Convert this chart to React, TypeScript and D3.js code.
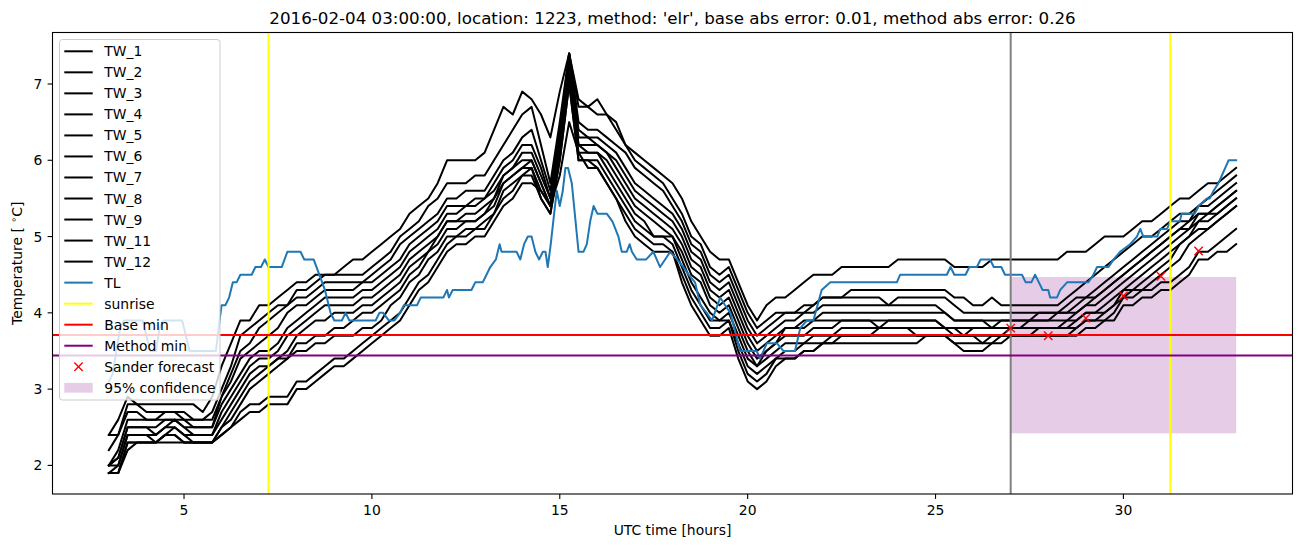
import React from "react";
import * as d3 from "d3";

const W = 1302;
const H = 547;
const PLOT = { left: 52.5, right: 1292.5, top: 32.5, bottom: 494 };
const FONT = "DejaVu Sans, Liberation Sans, sans-serif";

const TITLE = "2016-02-04 03:00:00, location: 1223, method: 'elr', base abs error: 0.01, method abs error: 0.26";
const X_DOMAIN = [1.5, 34.5];
const Y_DOMAIN = [1.625, 7.675];
const X_TICKS = [5, 10, 15, 20, 25, 30];
const Y_TICKS = [2, 3, 4, 5, 6, 7];

// TW series sampled every 15 minutes from 03:00 to 33:00 (one row per hour: :00 :15 :30 :45)
const T_START = 3;
const T_STEP = 0.25;

const TW_1 = [
  2.4, 2.6, 2.9, 2.8, 2.8, 2.8, 2.8, 2.8, 2.8, 2.8, 2.7, 2.9, 3.3, 3.6, 3.9, 3.9, 4.1, 4.1, 4.2, 4.3,
  4.4, 4.4, 4.5, 4.5, 4.5, 4.6, 4.7, 4.7, 4.8, 4.9, 5.0, 5.1, 5.3, 5.4, 5.5, 5.7, 6.0, 6.0, 6.0, 6.0,
  6.1, 6.4, 6.7, 6.6, 6.9, 6.8, 6.6, 6.3, 6.9, 7.4, 6.8, 6.7, 6.8, 6.6, 6.5, 6.2, 6.1, 6.0, 5.9, 5.8,
  5.7, 5.5, 5.2, 5.0, 4.8, 4.7, 4.7, 4.4, 4.1, 3.9, 4.1, 4.2, 4.2, 4.3, 4.4, 4.5, 4.5, 4.5, 4.6, 4.6,
  4.6, 4.6, 4.6, 4.6, 4.7, 4.7, 4.7, 4.7, 4.7, 4.7, 4.6, 4.6, 4.6, 4.6, 4.7, 4.7, 4.7, 4.7, 4.7, 4.7,
  4.7, 4.7, 4.8, 4.8, 4.8, 4.9, 5.0, 5.0, 5.0, 5.1, 5.2, 5.2, 5.3, 5.4, 5.5, 5.5, 5.6, 5.7, 5.7, 5.8,
  5.9,
];
const TW_2 = [
  2.4, 2.4, 2.8, 2.8, 2.7, 2.7, 2.7, 2.7, 2.7, 2.6, 2.6, 2.7, 3.0, 3.3, 3.7, 3.8, 3.9, 4.0, 4.1, 4.1,
  4.3, 4.3, 4.4, 4.5, 4.5, 4.5, 4.5, 4.5, 4.6, 4.7, 4.8, 5.0, 5.1, 5.2, 5.4, 5.5, 5.7, 5.7, 5.7, 5.8,
  5.8, 6.0, 6.2, 6.4, 6.6, 6.7, 6.2, 5.7, 6.5, 7.4, 6.7, 6.7, 6.6, 6.6, 6.4, 6.2, 6.0, 5.9, 5.8, 5.7,
  5.5, 5.3, 5.0, 4.9, 4.6, 4.5, 4.6, 4.3, 4.0, 3.8, 3.9, 4.0, 4.0, 4.0, 4.1, 4.1, 4.2, 4.2, 4.2, 4.3,
  4.3, 4.3, 4.3, 4.3, 4.3, 4.3, 4.3, 4.3, 4.3, 4.3, 4.2, 4.2, 4.1, 4.1, 4.2, 4.1, 4.1, 4.1, 4.1, 4.1,
  4.1, 4.1, 4.2, 4.3, 4.4, 4.5, 4.6, 4.7, 4.8, 4.9, 5.0, 5.0, 5.1, 5.2, 5.3, 5.3, 5.4, 5.5, 5.6, 5.7,
  5.8,
];
const TW_3 = [
  2.2, 2.4, 2.7, 2.7, 2.6, 2.6, 2.7, 2.7, 2.6, 2.6, 2.6, 2.6, 2.9, 3.2, 3.5, 3.6, 3.8, 3.9, 4.0, 4.1,
  4.2, 4.2, 4.3, 4.4, 4.4, 4.4, 4.4, 4.4, 4.5, 4.6, 4.7, 4.9, 5.0, 5.1, 5.2, 5.3, 5.5, 5.5, 5.6, 5.6,
  5.6, 5.8, 6.0, 6.1, 6.3, 6.4, 6.0, 5.6, 6.4, 7.4, 6.5, 6.4, 6.4, 6.3, 6.2, 6.1, 5.9, 5.8, 5.7, 5.6,
  5.4, 5.2, 4.9, 4.8, 4.5, 4.4, 4.5, 4.2, 3.9, 3.7, 3.8, 3.9, 4.0, 4.0, 4.0, 4.1, 4.2, 4.2, 4.2, 4.2,
  4.2, 4.2, 4.2, 4.1, 4.2, 4.2, 4.2, 4.2, 4.2, 4.2, 4.1, 4.0, 4.0, 4.0, 4.0, 4.0, 4.0, 4.0, 4.0, 4.0,
  4.0, 4.0, 4.1, 4.2, 4.2, 4.3, 4.4, 4.5, 4.6, 4.7, 4.8, 4.9, 5.0, 5.1, 5.2, 5.2, 5.4, 5.4, 5.5, 5.6,
  5.7,
];
const TW_4 = [
  2.0, 2.2, 2.6, 2.6, 2.6, 2.6, 2.6, 2.6, 2.6, 2.5, 2.5, 2.5, 2.9, 3.1, 3.4, 3.5, 3.6, 3.7, 3.8, 4.0,
  4.1, 4.1, 4.2, 4.3, 4.3, 4.3, 4.3, 4.4, 4.4, 4.5, 4.6, 4.7, 4.9, 5.0, 5.1, 5.2, 5.4, 5.4, 5.4, 5.5,
  5.5, 5.7, 5.9, 6.0, 6.2, 6.2, 5.9, 5.5, 6.3, 7.4, 6.4, 6.3, 6.3, 6.2, 6.1, 5.9, 5.7, 5.6, 5.5, 5.4,
  5.3, 5.1, 4.8, 4.7, 4.4, 4.3, 4.4, 4.1, 3.8, 3.6, 3.7, 3.8, 3.9, 3.9, 4.0, 4.0, 4.1, 4.1, 4.1, 4.1,
  4.1, 4.1, 4.1, 4.1, 4.1, 4.1, 4.1, 4.1, 4.1, 4.0, 3.9, 3.9, 3.9, 3.9, 3.9, 3.9, 3.9, 3.9, 3.9, 4.0,
  4.0, 4.0, 4.0, 4.1, 4.2, 4.2, 4.3, 4.4, 4.5, 4.6, 4.7, 4.8, 4.9, 5.0, 5.1, 5.1, 5.3, 5.3, 5.4, 5.5,
  5.6,
];
const TW_5 = [
  2.0, 2.1, 2.5, 2.5, 2.5, 2.5, 2.6, 2.6, 2.5, 2.5, 2.5, 2.5, 2.8, 3.0, 3.2, 3.4, 3.5, 3.5, 3.6, 3.8,
  3.9, 4.0, 4.1, 4.2, 4.2, 4.2, 4.2, 4.3, 4.3, 4.4, 4.5, 4.6, 4.8, 4.9, 5.0, 5.1, 5.3, 5.3, 5.4, 5.4,
  5.5, 5.6, 5.8, 5.9, 6.1, 6.1, 5.8, 5.5, 6.3, 7.3, 6.3, 6.3, 6.2, 6.1, 6.0, 5.8, 5.6, 5.5, 5.4, 5.3,
  5.2, 5.0, 4.7, 4.6, 4.3, 4.2, 4.3, 4.0, 3.7, 3.5, 3.6, 3.7, 3.8, 3.8, 3.9, 3.9, 4.0, 4.0, 4.0, 4.0,
  4.0, 4.0, 4.0, 4.0, 4.0, 4.0, 4.0, 4.0, 4.0, 4.0, 3.9, 3.9, 3.9, 3.9, 3.8, 3.9, 3.9, 3.9, 3.9, 3.9,
  3.9, 4.0, 4.0, 4.0, 4.1, 4.2, 4.3, 4.4, 4.5, 4.6, 4.7, 4.8, 4.9, 5.0, 5.1, 5.2, 5.3, 5.3, 5.4, 5.5,
  5.6,
];
const TW_6 = [
  2.0, 2.1, 2.5, 2.5, 2.5, 2.4, 2.5, 2.6, 2.5, 2.4, 2.4, 2.4, 2.7, 2.9, 3.1, 3.3, 3.4, 3.4, 3.5, 3.7,
  3.8, 3.9, 4.0, 4.1, 4.1, 4.1, 4.1, 4.2, 4.2, 4.3, 4.4, 4.5, 4.7, 4.8, 4.9, 5.0, 5.2, 5.2, 5.3, 5.3,
  5.4, 5.5, 5.8, 5.9, 6.0, 6.0, 5.7, 5.4, 6.2, 7.3, 6.2, 6.2, 6.2, 6.1, 5.9, 5.7, 5.5, 5.4, 5.3, 5.2,
  5.1, 4.9, 4.6, 4.5, 4.2, 4.1, 4.2, 3.9, 3.6, 3.4, 3.5, 3.6, 3.8, 3.8, 3.8, 3.9, 3.9, 3.9, 3.9, 3.9,
  3.9, 3.9, 3.9, 3.9, 3.9, 3.9, 3.9, 3.9, 3.9, 3.8, 3.8, 3.8, 3.8, 3.8, 3.8, 3.8, 3.8, 3.8, 3.9, 3.9,
  3.9, 3.9, 3.9, 4.0, 4.1, 4.1, 4.2, 4.3, 4.4, 4.5, 4.6, 4.7, 4.8, 4.9, 5.0, 5.1, 5.2, 5.3, 5.3, 5.4,
  5.5,
];
const TW_7 = [
  2.0, 2.0, 2.4, 2.4, 2.4, 2.4, 2.5, 2.5, 2.4, 2.4, 2.4, 2.4, 2.6, 2.8, 3.0, 3.2, 3.3, 3.3, 3.4, 3.5,
  3.7, 3.8, 3.9, 3.9, 4.0, 4.0, 4.0, 4.1, 4.1, 4.2, 4.3, 4.4, 4.6, 4.7, 4.8, 5.0, 5.2, 5.2, 5.2, 5.2,
  5.3, 5.5, 5.7, 5.8, 5.9, 6.0, 5.7, 5.4, 6.2, 7.2, 6.2, 6.1, 6.1, 6.0, 5.8, 5.6, 5.4, 5.3, 5.2, 5.1,
  5.0, 4.8, 4.5, 4.4, 4.1, 4.0, 4.1, 3.8, 3.5, 3.3, 3.5, 3.6, 3.7, 3.7, 3.7, 3.8, 3.8, 3.8, 3.9, 3.9,
  3.9, 3.9, 3.8, 3.9, 3.9, 3.9, 3.9, 3.9, 3.9, 3.8, 3.8, 3.7, 3.8, 3.8, 3.8, 3.8, 3.8, 3.8, 3.8, 3.8,
  3.8, 3.8, 3.9, 3.9, 4.0, 4.0, 4.1, 4.2, 4.3, 4.4, 4.5, 4.6, 4.7, 4.8, 4.9, 5.0, 5.2, 5.2, 5.3, 5.4,
  5.5,
];
const TW_8 = [
  1.9, 2.0, 2.4, 2.4, 2.4, 2.3, 2.4, 2.5, 2.4, 2.3, 2.3, 2.3, 2.5, 2.7, 2.9, 3.1, 3.2, 3.3, 3.4, 3.4,
  3.6, 3.6, 3.7, 3.7, 3.8, 3.8, 3.9, 4.0, 4.0, 4.1, 4.2, 4.3, 4.5, 4.6, 4.8, 4.9, 5.1, 5.1, 5.2, 5.2,
  5.3, 5.4, 5.7, 5.8, 5.9, 5.9, 5.6, 5.4, 6.1, 7.1, 6.1, 6.1, 6.1, 5.9, 5.7, 5.5, 5.3, 5.2, 5.0, 5.0,
  5.0, 4.7, 4.4, 4.2, 4.0, 3.9, 4.0, 3.7, 3.4, 3.3, 3.4, 3.5, 3.6, 3.6, 3.6, 3.7, 3.7, 3.7, 3.8, 3.8,
  3.8, 3.8, 3.8, 3.8, 3.8, 3.8, 3.8, 3.8, 3.8, 3.8, 3.7, 3.7, 3.7, 3.7, 3.7, 3.7, 3.8, 3.8, 3.8, 3.8,
  3.8, 3.8, 3.8, 3.9, 4.0, 4.0, 4.0, 4.1, 4.3, 4.3, 4.4, 4.5, 4.6, 4.7, 4.9, 5.0, 5.1, 5.1, 5.2, 5.3,
  5.4,
];
const TW_9 = [
  1.9, 1.9, 2.3, 2.3, 2.3, 2.3, 2.4, 2.4, 2.3, 2.3, 2.3, 2.3, 2.5, 2.6, 2.8, 3.0, 3.1, 3.2, 3.3, 3.4,
  3.5, 3.5, 3.6, 3.6, 3.7, 3.7, 3.7, 3.8, 3.8, 3.9, 4.1, 4.2, 4.4, 4.5, 4.7, 4.8, 5.0, 5.0, 5.1, 5.1,
  5.2, 5.3, 5.6, 5.7, 5.8, 5.9, 5.5, 5.3, 6.0, 7.0, 6.0, 6.0, 6.0, 5.8, 5.6, 5.4, 5.2, 5.1, 5.0, 5.0,
  4.9, 4.6, 4.3, 4.1, 3.9, 3.9, 3.9, 3.6, 3.3, 3.2, 3.3, 3.4, 3.5, 3.5, 3.6, 3.6, 3.6, 3.7, 3.7, 3.7,
  3.7, 3.7, 3.8, 3.8, 3.8, 3.8, 3.7, 3.7, 3.7, 3.7, 3.7, 3.7, 3.7, 3.6, 3.7, 3.7, 3.7, 3.7, 3.7, 3.8,
  3.8, 3.8, 3.8, 3.8, 3.9, 3.9, 4.0, 4.1, 4.2, 4.3, 4.3, 4.4, 4.5, 4.6, 4.7, 4.9, 5.0, 5.1, 5.2, 5.3,
  5.4,
];
const TW_11 = [
  1.9, 1.9, 2.3, 2.3, 2.3, 2.3, 2.4, 2.4, 2.3, 2.3, 2.3, 2.3, 2.4, 2.5, 2.7, 2.8, 2.8, 2.9, 2.9, 2.9,
  3.1, 3.1, 3.2, 3.3, 3.4, 3.4, 3.5, 3.6, 3.7, 3.8, 3.9, 4.0, 4.2, 4.4, 4.5, 4.7, 4.9, 5.0, 5.0, 5.1,
  5.1, 5.3, 5.5, 5.6, 5.8, 5.8, 5.5, 5.3, 6.0, 7.0, 6.0, 6.0, 5.9, 5.7, 5.5, 5.3, 5.1, 5.0, 4.9, 4.9,
  4.8, 4.5, 4.2, 4.0, 3.8, 3.8, 3.9, 3.5, 3.2, 3.1, 3.2, 3.4, 3.4, 3.4, 3.5, 3.5, 3.6, 3.6, 3.7, 3.7,
  3.7, 3.7, 3.7, 3.7, 3.7, 3.7, 3.7, 3.7, 3.7, 3.7, 3.6, 3.6, 3.6, 3.6, 3.6, 3.7, 3.7, 3.7, 3.7, 3.7,
  3.7, 3.7, 3.7, 3.8, 3.9, 3.9, 3.9, 4.0, 4.2, 4.2, 4.3, 4.3, 4.4, 4.4, 4.5, 4.6, 4.8, 4.8, 4.9, 5.0,
  5.1,
];
const TW_12 = [
  1.9, 1.9, 2.2, 2.3, 2.3, 2.3, 2.3, 2.3, 2.3, 2.3, 2.3, 2.3, 2.4, 2.5, 2.6, 2.7, 2.7, 2.8, 2.8, 2.8,
  3.0, 3.0, 3.1, 3.2, 3.3, 3.3, 3.4, 3.5, 3.6, 3.7, 3.8, 3.9, 4.1, 4.3, 4.4, 4.6, 4.8, 4.9, 4.9, 5.0,
  5.0, 5.2, 5.4, 5.5, 5.7, 5.7, 5.6, 5.4, 5.8, 6.5, 6.1, 5.9, 5.9, 5.7, 5.5, 5.2, 5.0, 4.9, 4.8, 4.8,
  4.8, 4.4, 4.1, 3.9, 3.7, 3.7, 3.8, 3.4, 3.1, 3.0, 3.1, 3.3, 3.4, 3.4, 3.5, 3.5, 3.6, 3.6, 3.6, 3.6,
  3.6, 3.6, 3.6, 3.6, 3.6, 3.6, 3.6, 3.7, 3.7, 3.7, 3.6, 3.5, 3.5, 3.5, 3.6, 3.6, 3.7, 3.7, 3.7, 3.7,
  3.7, 3.7, 3.7, 3.7, 3.8, 3.8, 3.9, 3.9, 4.1, 4.1, 4.2, 4.2, 4.3, 4.3, 4.4, 4.5, 4.7, 4.7, 4.8, 4.8,
  4.9,
];

const TW_NAMES = ["TW_1", "TW_2", "TW_3", "TW_4", "TW_5", "TW_6", "TW_7", "TW_8", "TW_9", "TW_11", "TW_12"];
const TW_VALUES = [TW_1, TW_2, TW_3, TW_4, TW_5, TW_6, TW_7, TW_8, TW_9, TW_11, TW_12];

// TL series: [hour, temperature]
const TL: [number, number][] = [
  [3.0, 3.1], [3.1, 3.2], [3.2, 3.5], [3.3, 3.8], [3.4, 3.9], [3.9, 3.9], [4.0, 3.7], [4.1, 3.5], [4.25, 3.5], [4.35, 3.8],
  [4.45, 3.9], [4.95, 3.9], [5.05, 3.7], [5.15, 3.5], [5.85, 3.5], [5.92, 3.8], [6.0, 4.1], [6.1, 4.1], [6.2, 4.2], [6.3, 4.4],
  [6.4, 4.4], [6.5, 4.5], [6.8, 4.5], [6.9, 4.6], [7.05, 4.6], [7.15, 4.7], [7.25, 4.6], [7.6, 4.6], [7.75, 4.8], [8.1, 4.8],
  [8.2, 4.7], [8.45, 4.7], [8.6, 4.5], [8.75, 4.3], [8.9, 4.0], [9.0, 3.9], [9.2, 3.9], [9.3, 4.0], [9.4, 3.9], [10.1, 3.9],
  [10.2, 4.0], [10.3, 4.0], [10.45, 3.9], [10.6, 3.9], [10.75, 4.0], [10.85, 4.1], [11.2, 4.1], [11.3, 4.2], [11.9, 4.2],
  [12.0, 4.3], [12.05, 4.2], [12.15, 4.3], [12.65, 4.3], [12.75, 4.4], [12.95, 4.4], [13.05, 4.5], [13.15, 4.6], [13.3, 4.7],
  [13.4, 4.9], [13.45, 4.8], [13.85, 4.8], [13.95, 4.7], [14.05, 4.9], [14.15, 5.0], [14.25, 5.0], [14.35, 4.8], [14.45, 4.7],
  [14.55, 4.8], [14.62, 4.8], [14.68, 4.6], [14.76, 4.9], [14.85, 5.3], [14.92, 5.6], [15.0, 5.4], [15.08, 5.6], [15.15, 5.9],
  [15.22, 5.9], [15.32, 5.7], [15.42, 5.2], [15.5, 4.8], [15.63, 4.8], [15.72, 4.9], [15.81, 5.2], [15.9, 5.4], [16.0, 5.3],
  [16.25, 5.3], [16.4, 5.2], [16.48, 5.1], [16.56, 5.0], [16.65, 4.8], [16.78, 4.8], [16.86, 4.9], [16.92, 4.8], [17.05, 4.7],
  [17.3, 4.7], [17.49, 4.8], [17.67, 4.6], [17.94, 4.8], [18.12, 4.7], [18.29, 4.6], [18.43, 4.5], [18.6, 4.4], [18.74, 4.1],
  [18.91, 4.0], [19.05, 3.9], [19.27, 4.2], [19.4, 4.1], [19.54, 4.0], [19.8, 3.5], [20.24, 3.5], [20.33, 3.4], [20.51, 3.6],
  [20.78, 3.6], [20.95, 3.5], [21.26, 3.5], [21.4, 3.8], [21.58, 3.9], [21.75, 3.9], [21.97, 4.3], [22.2, 4.4], [23.97, 4.4],
  [24.06, 4.5], [25.3, 4.5], [25.4, 4.6], [25.5, 4.5], [25.8, 4.5], [25.9, 4.6], [26.1, 4.6], [26.2, 4.7], [26.45, 4.7],
  [26.55, 4.6], [26.75, 4.6], [26.85, 4.5], [27.3, 4.5], [27.4, 4.4], [27.55, 4.4], [27.65, 4.5], [27.75, 4.4], [27.85, 4.3],
  [28.0, 4.3], [28.05, 4.2], [28.23, 4.2], [28.32, 4.3], [28.5, 4.4], [29.07, 4.4], [29.2, 4.5], [29.3, 4.6], [29.6, 4.6],
  [29.74, 4.7], [29.91, 4.8], [30.18, 4.9], [30.36, 5.0], [30.45, 5.1], [30.53, 5.0], [30.9, 5.0], [30.98, 5.1], [31.16, 5.1],
  [31.25, 5.2], [31.5, 5.2], [31.55, 5.3], [31.9, 5.3], [32.0, 5.4], [32.22, 5.5], [32.3, 5.5], [32.4, 5.6], [32.53, 5.7],
  [32.62, 5.8], [32.71, 5.9], [32.8, 6.0], [33.0, 6.0],
];

const SUNRISE = [7.25, 31.25];
const NOW_T = 27;
const BASE_MIN = 3.71;
const METHOD_MIN = 3.44;
const FORECAST_T = [27, 28, 29, 30, 31, 32];
const FORECAST_V = [3.8, 3.7, 3.93, 4.22, 4.48, 4.81];
const CONF_T = [27, 33];
const CONF_V = [2.42, 4.47];

const LEGEND_ITEMS = [
  ...TW_NAMES.map((n) => ({ label: n, kind: "line", color: "#000000" })),
  { label: "TL", kind: "line", color: "#1f77b4" },
  { label: "sunrise", kind: "line", color: "#ffff00" },
  { label: "Base min", kind: "line", color: "#ff0000" },
  { label: "Method min", kind: "line", color: "#800080" },
  { label: "Sander forecast", kind: "x", color: "#ff0000" },
  { label: "95% confidence", kind: "patch", color: "#800080" },
];

export default function App() {
  const x = d3.scaleLinear().domain(X_DOMAIN).range([PLOT.left, PLOT.right]);
  const y = d3.scaleLinear().domain(Y_DOMAIN).range([PLOT.bottom, PLOT.top]);
  const line = d3
    .line<[number, number]>()
    .x((d) => x(d[0]))
    .y((d) => y(d[1]));

  const twPaths = TW_VALUES.map(
    (vals) => line(vals.map((v, i) => [T_START + i * T_STEP, v] as [number, number])) || ""
  );
  const tlPath = line(TL) || "";

  const legX = 59.5;
  const legY = 39.5;
  const legW = 160.5;
  const legH = 360.5;
  const rowY = (k: number) => 51.3 + k * 21.03;

  return (
    <svg
      width={W}
      height={H}
      viewBox={`0 0 ${W} ${H}`}
      style={{ position: "absolute", left: 0, top: 0, background: "#ffffff", display: "block" }}
      fontFamily={FONT}
    >
      <rect x={0} y={0} width={W} height={H} fill="#ffffff" />
      <defs>
        <clipPath id="plotclip">
          <rect x={PLOT.left} y={PLOT.top} width={PLOT.right - PLOT.left} height={PLOT.bottom - PLOT.top} />
        </clipPath>
      </defs>

      <g clipPath="url(#plotclip)">
        <rect
          x={x(CONF_T[0])}
          y={y(CONF_V[1])}
          width={x(CONF_T[1]) - x(CONF_T[0])}
          height={y(CONF_V[0]) - y(CONF_V[1])}
          fill="#800080"
          fillOpacity={0.2}
        />
        {twPaths.map((p, i) => (
          <path key={i} d={p} fill="none" stroke="#000000" strokeWidth={2} strokeLinejoin="round" strokeLinecap="square" />
        ))}
        <path d={tlPath} fill="none" stroke="#1f77b4" strokeWidth={2} strokeLinejoin="round" strokeLinecap="square" />
        <line x1={x(NOW_T)} x2={x(NOW_T)} y1={PLOT.top} y2={PLOT.bottom} stroke="#808080" strokeWidth={2} />
        {SUNRISE.map((s, i) => (
          <line key={i} x1={x(s)} x2={x(s)} y1={PLOT.top} y2={PLOT.bottom} stroke="#ffff00" strokeWidth={2} />
        ))}
        <line x1={PLOT.left} x2={PLOT.right} y1={y(BASE_MIN)} y2={y(BASE_MIN)} stroke="#ff0000" strokeWidth={2} />
        <line x1={PLOT.left} x2={PLOT.right} y1={y(METHOD_MIN)} y2={y(METHOD_MIN)} stroke="#800080" strokeWidth={2} />
        {FORECAST_T.map((t, i) => {
          const cx = x(t);
          const cy = y(FORECAST_V[i]);
          const r = 4.2;
          return (
            <g key={i} stroke="#ff0000" strokeWidth={1.4}>
              <line x1={cx - r} y1={cy - r} x2={cx + r} y2={cy + r} />
              <line x1={cx - r} y1={cy + r} x2={cx + r} y2={cy - r} />
            </g>
          );
        })}
      </g>

      <rect
        x={PLOT.left}
        y={PLOT.top}
        width={PLOT.right - PLOT.left}
        height={PLOT.bottom - PLOT.top}
        fill="none"
        stroke="#000000"
        strokeWidth={1.1}
      />

      {X_TICKS.map((t) => (
        <g key={t}>
          <line x1={x(t)} x2={x(t)} y1={PLOT.bottom} y2={PLOT.bottom + 4.9} stroke="#000" strokeWidth={1.1} />
          <text x={x(t)} y={515} fontSize={13.9} textAnchor="middle" fill="#000">
            {t}
          </text>
        </g>
      ))}
      {Y_TICKS.map((t) => (
        <g key={t}>
          <line x1={PLOT.left - 4.9} x2={PLOT.left} y1={y(t)} y2={y(t)} stroke="#000" strokeWidth={1.1} />
          <text x={42.4} y={y(t) + 5} fontSize={13.9} textAnchor="end" fill="#000">
            {t}
          </text>
        </g>
      ))}

      <text x={(PLOT.left + PLOT.right) / 2} y={535} fontSize={13.9} textAnchor="middle" fill="#000">
        UTC time [hours]
      </text>
      <text transform={`translate(21.5, ${(PLOT.top + PLOT.bottom) / 2}) rotate(-90)`} fontSize={13.9} textAnchor="middle" fill="#000">
        Temperature [ <tspan fontSize={9.7} dy={-5}>∘</tspan><tspan dy={5}>C]</tspan>
      </text>
      <text x={(PLOT.left + PLOT.right) / 2} y={24.2} fontSize={16.7} textAnchor="middle" fill="#000">
        {TITLE}
      </text>

      <g>
        <rect x={legX} y={legY} width={legW} height={legH} rx={3} ry={3} fill="#ffffff" fillOpacity={0.8} stroke="#cccccc" strokeWidth={1} />
        {LEGEND_ITEMS.map((it, k) => {
          const cy = rowY(k);
          return (
            <g key={it.label}>
              {it.kind === "line" && <line x1={64.3} x2={92.7} y1={cy} y2={cy} stroke={it.color} strokeWidth={2} />}
              {it.kind === "x" && (
                <g stroke={it.color} strokeWidth={1.4}>
                  <line x1={78.5 - 4.2} y1={cy - 4.2} x2={78.5 + 4.2} y2={cy + 4.2} />
                  <line x1={78.5 - 4.2} y1={cy + 4.2} x2={78.5 + 4.2} y2={cy - 4.2} />
                </g>
              )}
              {it.kind === "patch" && <rect x={64.3} y={cy - 4.9} width={28.4} height={9.8} fill={it.color} fillOpacity={0.2} />}
              <text x={104.3} y={cy + 5} fontSize={13.9} fill="#000">
                {it.label}
              </text>
            </g>
          );
        })}
      </g>
    </svg>
  );
}
